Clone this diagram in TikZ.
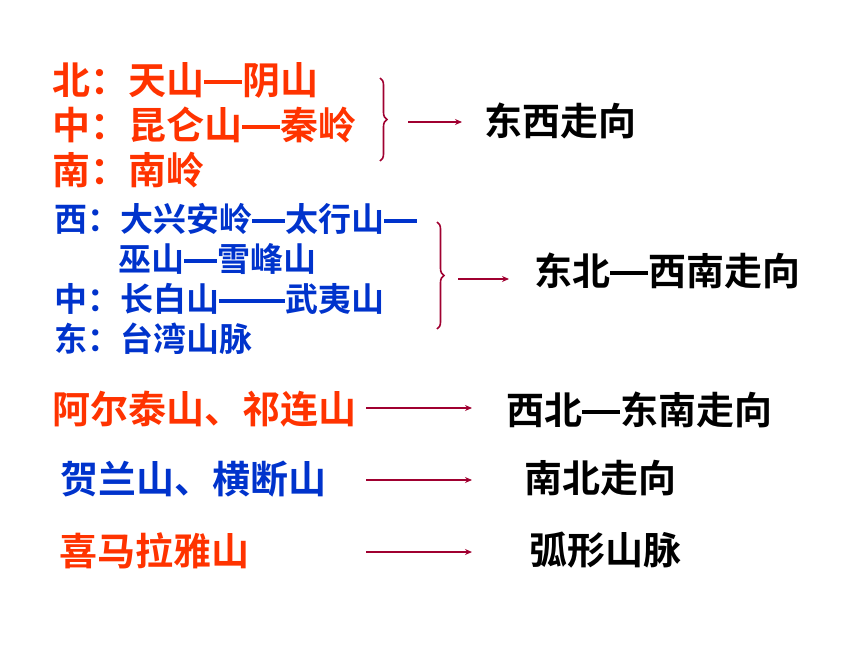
\documentclass[tikz,border=0pt]{standalone}
\usepackage{fontspec}
\usepackage{xcolor}
\usepackage{tikz}
\usetikzlibrary{arrows.meta,decorations.pathreplacing}
\newfontfamily\cjk{Noto Sans CJK SC}[BoldFont={Noto Sans CJK SC Bold}]
\definecolor{hot}{HTML}{FF3300}
\definecolor{deep}{HTML}{0033CC}
\definecolor{wine}{HTML}{A00030}
\newcommand\mdash{\rule[0.27em]{1em}{0.11em}}
\tikzset{
  big/.style={anchor=west, inner sep=0pt, font=\cjk\bfseries\fontsize{38}{40}\selectfont},
  small/.style={anchor=west, inner sep=0pt, font=\cjk\bfseries\fontsize{33}{36}\selectfont},
  redlab/.style={big, text=hot},
  bluelab/.style={small, text=deep},
  blacklab/.style={big, text=black},
  arr/.style={draw=wine, line width=1.6pt, -{Stealth[length=7pt,width=6pt]}},
  brc/.style={draw=wine, line width=1.6pt, decorate, decoration={brace, amplitude=7pt}},
}
\begin{document}
\begin{tikzpicture}[x=1pt, y=-1pt]
  \useasboundingbox (0,0) rectangle (860,645);

  % group 1
  \node[redlab] (n1) at (52,80) {北：天山\mdash 阴山};
  \node[redlab] (n2) at (52,125) {中：昆仑山\mdash 秦岭};
  \node[redlab] (n3) at (52,170) {南：南岭};
  \coordinate (b1t) at (380,78);
  \coordinate (b1b) at (380,161);
  \draw[brc] (b1t) -- (b1b);
  \coordinate (a1s) at (408,122);
  \node[blacklab] (d1) at (484,121) {东西走向};
  \draw[arr] (a1s) -- (462,122);

  % group 2
  \node[bluelab] (m1) at (54,219) {西：大兴安岭\mdash 太行山\mdash};
  \node[bluelab] (m2) at (118,259) {巫山\mdash 雪峰山};
  \node[bluelab] (m3) at (54,299) {中：长白山\mdash\mdash 武夷山};
  \node[bluelab] (m4) at (54,339) {东：台湾山脉};
  \coordinate (b2t) at (437,222);
  \coordinate (b2b) at (437,329);
  \draw[brc] (b2t) -- (b2b);
  \coordinate (a2s) at (458,279);
  \node[blacklab] (d2) at (534,271) {东北\mdash 西南走向};
  \draw[arr] (a2s) -- (509,279);

  % single rows
  \node[redlab] (r1) at (52,409) {阿尔泰山、祁连山};
  \node[bluelab, big] (r2) at (60,479) {贺兰山、横断山};
  \node[redlab] (r3) at (59,551) {喜马拉雅山};
  \node[blacklab] (d3) at (506,410) {西北\mdash 东南走向};
  \node[blacklab] (d4) at (524,478) {南北走向};
  \node[blacklab] (d5) at (529,550) {弧形山脉};
  \coordinate (a3s) at (366,408);
  \coordinate (a4s) at (366,480);
  \coordinate (a5s) at (366,552);
  \draw[arr] (a3s) -- (472,408);
  \draw[arr] (a4s) -- (472,480);
  \draw[arr] (a5s) -- (472,552);
\end{tikzpicture}
\end{document}
